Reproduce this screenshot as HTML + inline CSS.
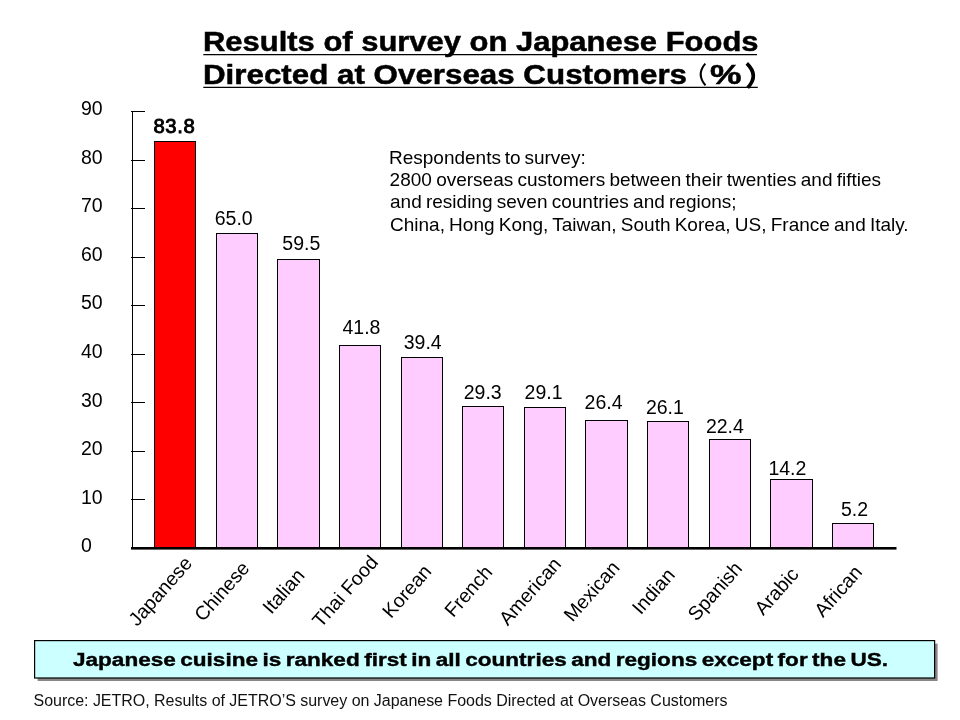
<!DOCTYPE html>
<html><head><meta charset="utf-8"><style>
html,body{margin:0;padding:0;background:#fff;width:960px;height:720px;overflow:hidden}
svg{display:block;will-change:transform}
text{font-family:"Liberation Sans",sans-serif;fill:#000}
.ax{font-size:19.5px}
.v{font-size:19.5px}
.vb{font-size:20.3px;stroke:#000;stroke-width:0.9px}
.cat{font-size:19.5px;text-anchor:middle;dominant-baseline:central}
.t{font-size:27.8px;font-weight:bold;stroke:#000;stroke-width:0.5px}
.note{font-size:19px}
.src{font-size:16px;fill:#111}
.box{font-size:18.67px;font-weight:bold;stroke:#000;stroke-width:0.4px}
</style></head><body>
<svg width="960" height="720" viewBox="0 0 960 720">
<text x="203" y="50.75" class="t" textLength="555.5" lengthAdjust="spacingAndGlyphs">Results of survey on Japanese Foods</text>
<line x1="203.3" y1="54.6" x2="757" y2="54.6" stroke="#000" stroke-width="1.2"/>
<text x="203" y="83.8" class="t" textLength="484" lengthAdjust="spacingAndGlyphs">Directed at Overseas Customers</text>
<path d="M705.3 63.6 Q696 74.5 705.5 85.3" fill="none" stroke="#000" stroke-width="2"/>
<text x="710" y="83.8" class="t" textLength="31.5" lengthAdjust="spacingAndGlyphs">%</text>
<path d="M746.8 63.4 Q759.3 75.5 747.7 87.7" fill="none" stroke="#000" stroke-width="3.6"/>
<line x1="203.3" y1="87.3" x2="757.8" y2="87.3" stroke="#000" stroke-width="1.3"/>
<text x="81" y="552.40" class="ax">0</text>
<rect x="131" y="499" width="14" height="1" fill="#000"/>
<text x="81" y="503.79" class="ax">10</text>
<rect x="131" y="451" width="14" height="1" fill="#000"/>
<text x="81" y="455.18" class="ax">20</text>
<rect x="131" y="402" width="14" height="1" fill="#000"/>
<text x="81" y="406.57" class="ax">30</text>
<rect x="131" y="354" width="14" height="1" fill="#000"/>
<text x="81" y="357.96" class="ax">40</text>
<rect x="131" y="305" width="14" height="1" fill="#000"/>
<text x="81" y="309.35" class="ax">50</text>
<rect x="131" y="257" width="14" height="1" fill="#000"/>
<text x="81" y="260.74" class="ax">60</text>
<rect x="131" y="208" width="14" height="1" fill="#000"/>
<text x="81" y="212.13" class="ax">70</text>
<rect x="131" y="160" width="14" height="1" fill="#000"/>
<text x="81" y="163.52" class="ax">80</text>
<rect x="131" y="111" width="14" height="1" fill="#000"/>
<text x="81" y="114.91" class="ax">90</text>
<rect x="132" y="111" width="1" height="437" fill="#000"/>
<rect x="154.5" y="141.5" width="41" height="407" fill="#FF0000" stroke="#000" stroke-width="1"/>
<rect x="216.5" y="233.5" width="41" height="315" fill="#FFCCFF" stroke="#000" stroke-width="1"/>
<rect x="277.5" y="259.5" width="42" height="289" fill="#FFCCFF" stroke="#000" stroke-width="1"/>
<rect x="339.5" y="345.5" width="41" height="203" fill="#FFCCFF" stroke="#000" stroke-width="1"/>
<rect x="401.5" y="357.5" width="41" height="191" fill="#FFCCFF" stroke="#000" stroke-width="1"/>
<rect x="462.5" y="406.5" width="41" height="142" fill="#FFCCFF" stroke="#000" stroke-width="1"/>
<rect x="524.5" y="407.5" width="41" height="141" fill="#FFCCFF" stroke="#000" stroke-width="1"/>
<rect x="585.5" y="420.5" width="42" height="128" fill="#FFCCFF" stroke="#000" stroke-width="1"/>
<rect x="647.5" y="421.5" width="41" height="127" fill="#FFCCFF" stroke="#000" stroke-width="1"/>
<rect x="709.5" y="439.5" width="41" height="109" fill="#FFCCFF" stroke="#000" stroke-width="1"/>
<rect x="770.5" y="479.5" width="42" height="69" fill="#FFCCFF" stroke="#000" stroke-width="1"/>
<rect x="832.5" y="523.5" width="41" height="25" fill="#FFCCFF" stroke="#000" stroke-width="1"/>
<rect x="131" y="547" width="765.5" height="2.6" fill="#000"/>
<text x="153.45" y="132.90" class="vb" letter-spacing="0.6">83.8</text>
<text x="214.70" y="224.90" class="v">65.0</text>
<text x="282.30" y="249.90" class="v">59.5</text>
<text x="342.50" y="333.75" class="v">41.8</text>
<text x="403.75" y="348.75" class="v">39.4</text>
<text x="463.75" y="398.75" class="v">29.3</text>
<text x="524.60" y="398.75" class="v">29.1</text>
<text x="584.60" y="409.40" class="v">26.4</text>
<text x="645.90" y="413.50" class="v">26.1</text>
<text x="705.90" y="432.75" class="v">22.4</text>
<text x="768.40" y="474.75" class="v">14.2</text>
<text x="840.90" y="515.75" class="v">5.2</text>
<text transform="translate(159.95,591) rotate(-48.5)" class="cat">Japanese</text>
<text transform="translate(221.58,591) rotate(-48.5)" class="cat">Chinese</text>
<text transform="translate(283.21,591) rotate(-48.5)" class="cat">Italian</text>
<text transform="translate(344.84,591) rotate(-48.5)" class="cat">Thai Food</text>
<text transform="translate(406.47,591) rotate(-48.5)" class="cat">Korean</text>
<text transform="translate(468.10,591) rotate(-48.5)" class="cat">French</text>
<text transform="translate(529.73,591) rotate(-48.5)" class="cat">American</text>
<text transform="translate(591.36,591) rotate(-48.5)" class="cat">Mexican</text>
<text transform="translate(652.99,591) rotate(-48.5)" class="cat">Indian</text>
<text transform="translate(714.62,591) rotate(-48.5)" class="cat">Spanish</text>
<text transform="translate(776.25,591) rotate(-48.5)" class="cat">Arabic</text>
<text transform="translate(837.88,591) rotate(-48.5)" class="cat">African</text>
<text class="note"><tspan x="389" y="163.8" word-spacing="-1.45">Respondents to survey:</tspan><tspan x="389.6" y="186.1" word-spacing="-1.0">2800 overseas customers between their twenties and fifties</tspan><tspan x="390" y="208.4" word-spacing="-1.02">and residing seven countries and regions;</tspan><tspan x="390" y="230.7" word-spacing="-1.09">China, Hong Kong, Taiwan, South Korea, US, France and Italy.</tspan></text>
<rect x="37.6" y="643.6" width="900" height="37.4" fill="#878787"/>
<rect x="34.6" y="640.6" width="900" height="37.4" fill="#CCFFFF" stroke="#000" stroke-width="1.2"/>
<text x="73" y="665.5" class="box" word-spacing="-1.5" textLength="815" lengthAdjust="spacingAndGlyphs">Japanese cuisine is ranked first in all countries and regions except for the US.</text>
<text x="33.5" y="705.6" class="src" textLength="694" lengthAdjust="spacing">Source: JETRO, Results of JETRO’S survey on Japanese Foods Directed at Overseas Customers</text>
</svg>
</body></html>
